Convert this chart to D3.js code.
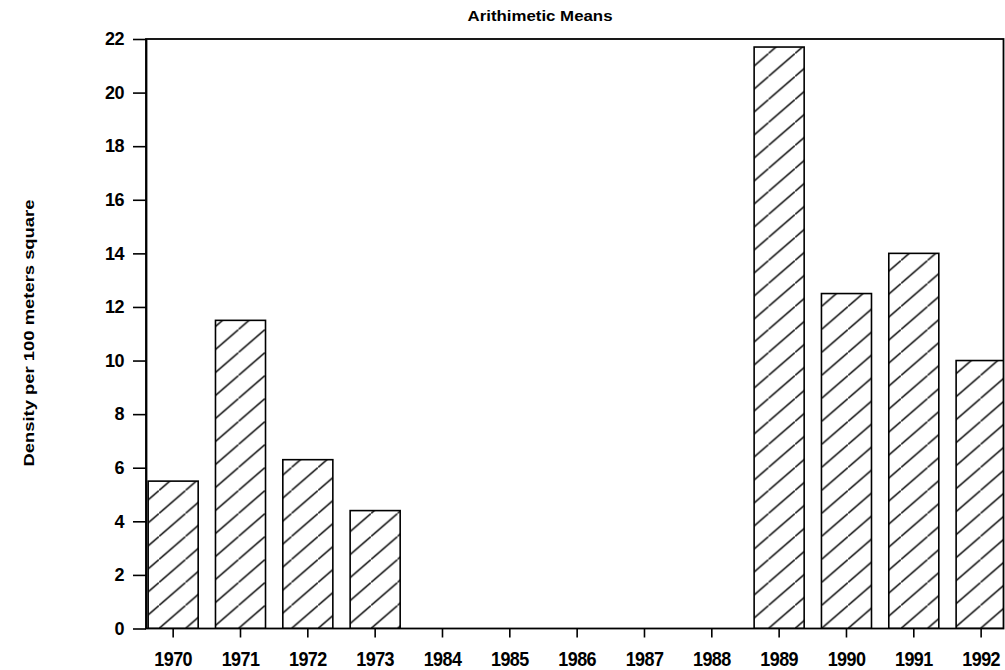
<!DOCTYPE html>
<html>
<head>
<meta charset="utf-8">
<script src="https://cdn.jsdelivr.net/npm/d3@7"></script>
<style>
  html, body { margin: 0; padding: 0; background: #fff; }
  svg { display: block; }
  text { font-family: "Liberation Sans", Arial, sans-serif; font-weight: bold; fill: #000; }
</style>
</head>
<body>
<svg id="chart" width="1005" height="670"></svg>
<script>
// ---- data ----
const years = ["1970", "1971", "1972", "1973", "1984", "1985", "1986", "1987", "1988", "1989", "1990", "1991", "1992"];
const densities = [5.5, 11.5, 6.3, 4.4, 0, 0, 0, 0, 0, 21.7, 12.5, 14.0, 10.0];
const yTicks = [0, 2, 4, 6, 8, 10, 12, 14, 16, 18, 20, 22];
const chartTitle = "Arithimetic Means";
const yTitle = "Density per 100 meters square";

// ---- layout ----
const W = 1005, H = 670;
const plot = { left: 146, right: 1003.5, top: 39, bottom: 628.5 };

const svg = d3.select("#chart");

const x = d3.scaleBand()
  .domain(years)
  .range([139.5, 1014.8])
  .paddingInner(0.257)
  .paddingOuter(0.1285);

const y = d3.scaleLinear()
  .domain([0, 22])
  .range([plot.bottom, plot.top]);

// hatch pattern
const defs = svg.append("defs");
const pw = 26.5, ph = 23;
const pat = defs.append("pattern")
  .attr("id", "hatch")
  .attr("patternUnits", "userSpaceOnUse")
  .attr("width", pw).attr("height", ph)
  .attr("x", 0).attr("y", plot.bottom);
pat.append("rect").attr("width", pw).attr("height", ph).attr("fill", "#fff");
pat.append("path")
  .attr("d", `M${-pw * 0.1},${ph * 1.1} L${pw * 1.1},${-ph * 0.1}`)
  .attr("stroke", "#000").attr("stroke-width", 1.4).attr("fill", "none");

defs.append("clipPath").attr("id", "plotclip")
  .append("rect")
  .attr("x", plot.left).attr("y", plot.top - 2)
  .attr("width", plot.right - plot.left).attr("height", plot.bottom - plot.top + 2);

// bars
const data = years.map((yr, i) => ({ year: yr, value: densities[i] }));
svg.append("g")
  .attr("clip-path", "url(#plotclip)")
  .selectAll("rect")
  .data(data.filter(d => d.value > 0))
  .join("rect")
  .attr("x", d => x(d.year))
  .attr("y", d => y(d.value))
  .attr("width", x.bandwidth())
  .attr("height", d => y(0) - y(d.value))
  .attr("fill", "url(#hatch)")
  .attr("stroke", "#000")
  .attr("stroke-width", 1.6);

// frame
svg.append("rect")
  .attr("x", plot.left).attr("y", plot.top)
  .attr("width", plot.right - plot.left)
  .attr("height", plot.bottom - plot.top)
  .attr("fill", "none")
  .attr("stroke", "#000")
  .attr("stroke-width", 1.8);

// y axis
const yAxis = svg.append("g")
  .attr("transform", `translate(${plot.left},0)`)
  .call(d3.axisLeft(y).tickValues(yTicks).tickSize(13).tickSizeOuter(0).tickPadding(9));
yAxis.select(".domain").attr("stroke-width", 1.8);
yAxis.selectAll(".tick line").attr("stroke-width", 1.6);
yAxis.selectAll(".tick text")
  .style("font-size", "18px")
  .style("font-family", "'Liberation Sans', Arial, sans-serif")
  .style("font-weight", "bold")
  .attr("letter-spacing", "-0.5");

// x axis
const xAxis = svg.append("g")
  .attr("transform", `translate(0,${plot.bottom})`)
  .call(d3.axisBottom(x).tickSize(9).tickSizeOuter(0).tickPadding(12));
xAxis.select(".domain").remove();
xAxis.selectAll(".tick line").attr("stroke-width", 1.6);
xAxis.selectAll(".tick text")
  .style("font-size", "18px")
  .style("font-family", "'Liberation Sans', Arial, sans-serif")
  .style("font-weight", "bold")
  .attr("letter-spacing", "-0.6")
  .attr("y", 0)
  .attr("dy", 0)
  .attr("transform", "translate(0,37) scale(1,1.15)");

// chart title
svg.append("text")
  .attr("x", 540).attr("y", 21)
  .attr("text-anchor", "middle")
  .style("font-size", "15px")
  .attr("textLength", 145)
  .attr("lengthAdjust", "spacingAndGlyphs")
  .text(chartTitle);

// y title
svg.append("text")
  .attr("transform", `translate(34,333) rotate(-90)`)
  .attr("text-anchor", "middle")
  .style("font-size", "14px")
  .attr("textLength", 267)
  .attr("lengthAdjust", "spacingAndGlyphs")
  .text(yTitle);
</script>
</body>
</html>
